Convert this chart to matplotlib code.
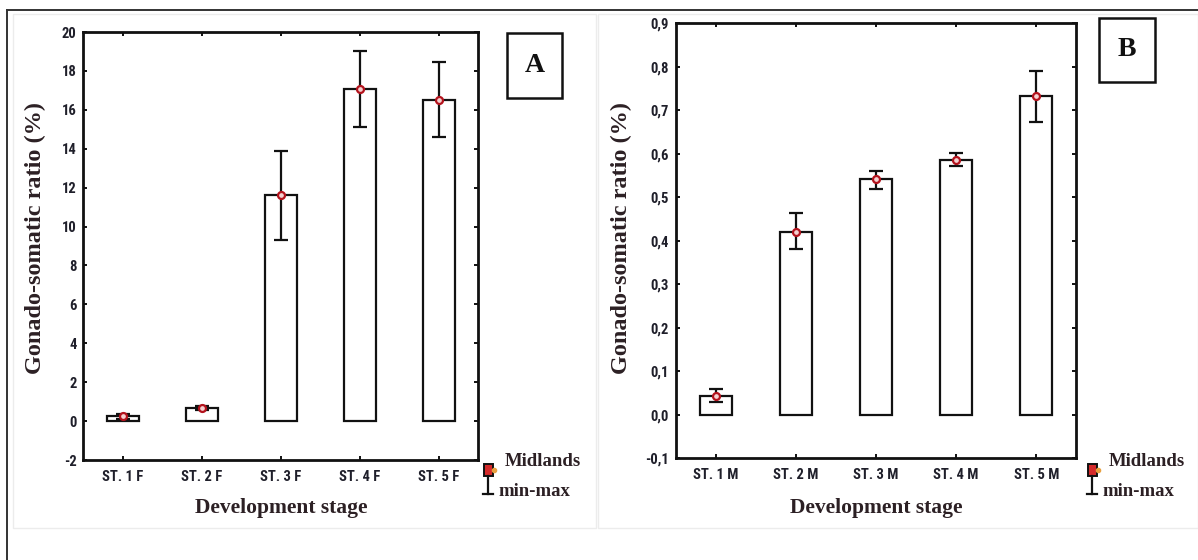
import matplotlib
matplotlib.use('Agg')
from matplotlib import pyplot as plt
from matplotlib.patches import Rectangle
from matplotlib.lines import Line2D
from matplotlib import font_manager
import numpy as np

# ---- data ----
stages_f = ['ST. 1 F', 'ST. 2 F', 'ST. 3 F', 'ST. 4 F', 'ST. 5 F']
gsr_f = [0.25, 0.68, 11.6, 17.05, 16.5]
gsr_f_min = [0.1, 0.55, 9.3, 15.1, 14.6]
gsr_f_max = [0.35, 0.8, 13.9, 19.0, 18.45]
yticks_f = [-2, 0, 2, 4, 6, 8, 10, 12, 14, 16, 18, 20]
yticklabels_f = ['-2', '0', '2', '4', '6', '8', '10', '12', '14', '16', '18', '20']

stages_m = ['ST. 1 M', 'ST. 2 M', 'ST. 3 M', 'ST. 4 M', 'ST. 5 M']
gsr_m = [0.043, 0.42, 0.543, 0.586, 0.733]
gsr_m_min = [0.03, 0.38, 0.519, 0.573, 0.672]
gsr_m_max = [0.06, 0.463, 0.561, 0.601, 0.791]
yticks_m = [-0.1, 0.0, 0.1, 0.2, 0.3, 0.4, 0.5, 0.6, 0.7, 0.8, 0.9]
yticklabels_m = ['-0,1', '0,0', '0,1', '0,2', '0,3', '0,4', '0,5', '0,6', '0,7', '0,8', '0,9']

# ---- style ----
W, H = 1198, 560
installed = {f.name for f in font_manager.fontManager.ttflist}
narrow = [f for f in ['Liberation Sans Narrow', 'DejaVu Sans Condensed', 'Roboto Condensed',
                      'Open Sans Condensed'] if f in installed]
narrow_ok = bool(narrow)
narrow = narrow + ['Roboto', 'DejaVu Sans']
tick_size = 10.5 if narrow_ok else 8.5
serif = ['Liberation Serif', 'DejaVu Serif']
tick_color = '#1f1f2a'
label_color = '#2c2024'
red = '#b3121c'


def px(x, y):
    return x / W, 1 - y / H


fig = plt.figure(figsize=(W / 100, H / 100), dpi=100)
fig.patch.set_facecolor('white')

# outer frame (only left and top edges are visible in the crop) and panel outlines
fig.add_artist(Line2D([7 / W, 7 / W], [0, 1 - 10 / H], color='#333333', lw=1.4))
fig.add_artist(Line2D([7 / W, 1], [1 - 10 / H, 1 - 10 / H], color='#333333', lw=1.4))
fig.add_artist(Rectangle(px(13, 528), 583 / W, 514 / H, fill=False, ec='#ececec', lw=1.0))
fig.add_artist(Rectangle(px(598, 528), 600 / W, 514 / H, fill=False, ec='#ececec', lw=1.0))


def panel(rect, stages, vals, lo, hi, yt, ytl, letter, box, ylab_x, leg_x):
    ax = fig.add_axes(rect)
    x = np.arange(len(stages))
    ax.bar(x, vals, width=0.4, bottom=0, color='white', edgecolor='#111111', lw=1.6, zorder=2)
    err = [np.array(vals) - np.array(lo), np.array(hi) - np.array(vals)]
    ax.errorbar(x, vals, yerr=err, fmt='none', ecolor='#111111', elinewidth=1.6,
                capsize=5.2, capthick=1.6, zorder=3)
    ax.plot(x, vals, 'o', ms=5, mfc='#f4d0d0', mec=red, mew=1.6, zorder=4)
    ax.set_xlim(-0.5, len(stages) - 0.5)
    ax.set_ylim(yt[0], yt[-1])
    ax.set_xticks(x)
    ax.set_xticklabels(stages, family=narrow, fontsize=tick_size, fontweight='bold',
                       color=tick_color)
    ax.set_yticks(yt)
    ax.set_yticklabels(ytl, family=narrow, fontsize=tick_size, fontweight='bold',
                       color=tick_color)
    ax.tick_params(direction='in', length=3, width=1.4, top=True, right=True,
                   color='#111111')
    ax.tick_params(axis='x', pad=7)
    ax.tick_params(axis='y', pad=5)
    for s in ax.spines.values():
        s.set_linewidth(2.0)
        s.set_color('#111111')

    # axis labels
    l, b, w, h = rect
    fig.text(l + w / 2, 1 - 508 / H, 'Development stage', ha='center', va='center',
             family=serif, fontsize=15.5, fontweight='bold', color=label_color)
    fig.text(ylab_x / W, 1 - 238 / H, 'Gonado-somatic ratio (%)', ha='center', va='center',
             rotation=90, family=serif, fontsize=17.5, fontweight='bold', color=label_color)

    # panel letter box
    bx0, by0, bx1, by1 = box
    fig.add_artist(Rectangle(px(bx0, by1), (bx1 - bx0) / W, (by1 - by0) / H,
                             fill=False, ec='#111111', lw=1.8))
    fig.text((bx0 + bx1) / 2 / W, 1 - (by0 + by1) / 2 / H, letter, ha='center', va='center',
             family=serif, fontsize=20, fontweight='bold', color='#111111')

    # legend: mean marker + min-max whisker
    fig.add_artist(Rectangle(px(leg_x - 4, 476), 9 / W, 12 / H, fc='#d42a2a', ec='#111111', lw=1.4))
    fig.add_artist(Line2D([(leg_x + 6) / W], [1 - 470 / H], marker='o', ms=3,
                          color='#e8a040', lw=0))
    fig.add_artist(Line2D([leg_x / W, leg_x / W], [1 - 476 / H, 1 - 494 / H], color='#111111', lw=1.6))
    fig.add_artist(Line2D([(leg_x - 5) / W, (leg_x + 5) / W], [1 - 494 / H, 1 - 494 / H],
                          color='#111111', lw=1.6))
    fig.text((leg_x + 17) / W, 1 - 462 / H, 'Midlands', ha='left', va='center',
             family=serif, fontsize=13.5, fontweight='bold', color=label_color)
    fig.text((leg_x + 10) / W, 1 - 492 / H, 'min-max', ha='left', va='center',
             family=serif, fontsize=13.5, fontweight='bold', color=label_color)
    return ax


panel([83.4 / W, 100 / H, 395 / W, 428 / H], stages_f, gsr_f, gsr_f_min, gsr_f_max,
      yticks_f, yticklabels_f, 'A', (507, 33, 562, 98), 35, 488)
panel([675.7 / W, 101.7 / H, 400.6 / W, 435 / H], stages_m, gsr_m, gsr_m_min, gsr_m_max,
      yticks_m, yticklabels_m, 'B', (1099, 18, 1155, 82), 621, 1092)

fig.savefig('out.png', dpi=100)
